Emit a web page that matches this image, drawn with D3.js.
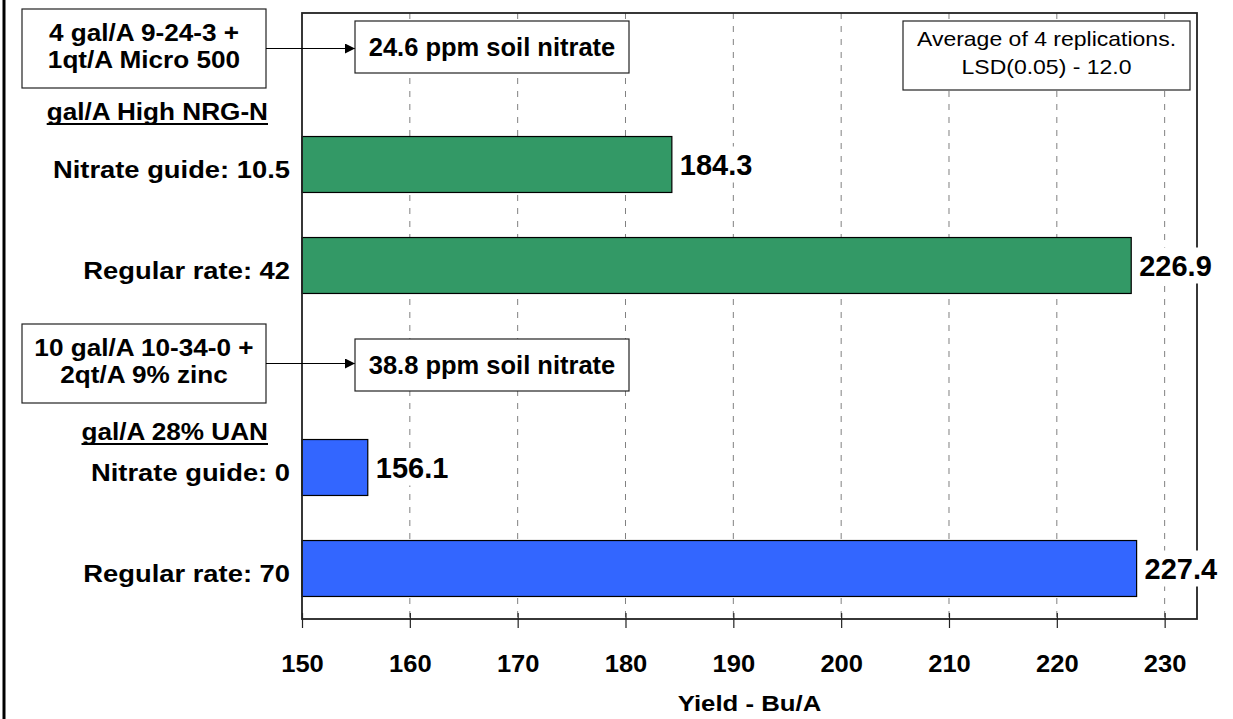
<!DOCTYPE html>
<html>
<head>
<meta charset="utf-8">
<script src="https://cdn.jsdelivr.net/npm/d3@7"></script>
<style>
  html, body { margin: 0; padding: 0; background: #fff; }
  svg { display: block; font-family: "Liberation Sans", Arial, sans-serif; }
</style>
</head>
<body>
<svg id="chart" width="1233" height="719"></svg>
<script>
// ---------------- data ----------------
const rows = ["hdrHigh", "Nitrate guide: 10.5", "Regular rate: 42", "hdrUAN", "Nitrate guide: 0", "Regular rate: 70"];
const categories = ["Nitrate guide: 10.5", "Regular rate: 42", "Nitrate guide: 0", "Regular rate: 70"];
const yields = [184.3, 226.9, 156.1, 227.4];
const groups = ["High NRG-N", "High NRG-N", "28% UAN", "28% UAN"];
const xTicks = [150, 160, 170, 180, 190, 200, 210, 220, 230];
const xDomain = [150, 233];
const groupColors = { "High NRG-N": "#339966", "28% UAN": "#3366FF" };
const axisTitle = "Yield - Bu/A";
const starterBoxes = [
  ["4 gal/A 9-24-3 +", "1qt/A Micro 500"],
  ["10 gal/A 10-34-0 +", "2qt/A 9% zinc"]
];
const nitrateNotes = ["24.6 ppm soil nitrate", "38.8 ppm soil nitrate"];
const headers = ["gal/A High NRG-N", "gal/A 28% UAN"];
const noteLines = ["Average of 4 replications.", "LSD(0.05) - 12.0"];

// ---------------- layout ----------------
const W = 1233, H = 719;
const P = { left: 302, right: 1197, top: 13, bottom: 619 };
const svg = d3.select("#chart");

const x = d3.scaleLinear().domain(xDomain).range([P.left, P.right]);
const y = d3.scaleBand().domain(rows).range([P.top, P.bottom])
  .paddingInner(0.446).paddingOuter(0.223).align(0.5);

function stext(g, px, py, str, o) {
  return g.append("text")
    .attr("transform", `translate(${px},${py}) scale(${o.sx || 1},1)`)
    .attr("text-anchor", o.anchor || "start")
    .style("font-size", o.size + "px")
    .style("font-weight", o.weight || "bold")
    .attr("fill", "#000")
    .text(str);
}

// left thick line
svg.append("rect").attr("x", 2.5).attr("y", 0).attr("width", 3).attr("height", H).attr("fill", "#000");

// gridlines
svg.append("g").selectAll("line").data(xTicks.slice(1)).join("line")
  .attr("x1", d => x(d)).attr("x2", d => x(d))
  .attr("y1", P.top).attr("y2", P.bottom)
  .attr("stroke", "#808080").attr("stroke-width", 1)
  .attr("stroke-dasharray", "6,7");

// bars
svg.append("g").selectAll("rect").data(categories).join("rect")
  .attr("x", x(xDomain[0]))
  .attr("y", d => y(d))
  .attr("width", (d, i) => x(yields[i]) - x(xDomain[0]))
  .attr("height", y.bandwidth())
  .attr("fill", (d, i) => groupColors[groups[i]])
  .attr("stroke", "#000").attr("stroke-width", 1.2);

// plot border
svg.append("rect").attr("x", P.left).attr("y", P.top)
  .attr("width", P.right - P.left).attr("height", P.bottom - P.top)
  .attr("fill", "none").attr("stroke", "#222").attr("stroke-width", 1.8);

// bottom axis
const xAxis = svg.append("g").attr("transform", `translate(0,${P.bottom})`)
  .call(d3.axisBottom(x).tickValues(xTicks).tickSize(9).tickPadding(0).tickFormat(d3.format("d")));
xAxis.select(".domain").remove();
xAxis.selectAll(".tick line").attr("y1", -6).attr("y2", 9).attr("stroke", "#222").attr("stroke-width", 1.2);
xAxis.selectAll(".tick text")
  .attr("y", 0).attr("dy", null)
  .attr("transform", "translate(0,53) scale(1.11,1)")
  .style("font-size", "23px").style("font-weight", "bold").attr("fill", "#000")
  .attr("font-family", null);

// axis title
stext(svg, (P.left + P.right) / 2, 711, axisTitle, { size: 23, sx: 1.12, anchor: "middle" });

// category labels
const yAxis = svg.append("g").attr("transform", `translate(${P.left},0)`)
  .call(d3.axisLeft(y).tickValues(categories).tickSize(0).tickPadding(0));
yAxis.select(".domain").remove();
yAxis.selectAll(".tick text")
  .attr("x", 0).attr("dy", null).attr("y", 0)
  .attr("transform", "translate(-12,13) scale(1.14,1)")
  .style("font-size", "24px").style("font-weight", "bold").attr("fill", "#000")
  .attr("font-family", null);

// value labels with white background
const vl = svg.append("g");
categories.forEach((c, i) => {
  const cy = y(c) + y.bandwidth() / 2;
  const t = stext(vl, x(yields[i]) + 8, cy + 10, yields[i].toFixed(1), { size: 29 });
  const bb = t.node().getBBox();
  vl.insert("rect", "text")
    .attr("x", x(yields[i]) + 5).attr("y", cy - 18)
    .attr("width", bb.width + 8).attr("height", 36)
    .attr("fill", "#fff");
});
vl.selectAll("text").raise();

// arrow marker
svg.append("defs").append("marker")
  .attr("id", "arr").attr("viewBox", "0 0 10 10").attr("refX", 10).attr("refY", 5)
  .attr("markerWidth", 10).attr("markerHeight", 10).attr("markerUnits", "userSpaceOnUse")
  .attr("orient", "auto")
  .append("path").attr("d", "M0,0 L10,5 L0,10 Z").attr("fill", "#000");

// starter boxes, arrows, nitrate notes, headers
const boxTops = [9, 324];
const noteTops = [21, 339];
const headerBase = [120, 440];
starterBoxes.forEach((lines, i) => {
  const g = svg.append("g");
  const bx = 22, bw = 244, bh = 79, by = boxTops[i];
  g.append("rect").attr("x", bx).attr("y", by).attr("width", bw).attr("height", bh)
    .attr("fill", "#fff").attr("stroke", "#222").attr("stroke-width", 1.2);
  lines.forEach((ln, j) => {
    stext(g, bx + bw / 2, by + 32 + j * 27, ln, { size: 24, sx: 1.09, anchor: "middle" });
  });
  const ay = by + bh / 2;
  const nx = 355, nw = 274, nh = 52, ny = noteTops[i];
  g.append("line").attr("x1", bx + bw).attr("x2", nx).attr("y1", ay).attr("y2", ay)
    .attr("stroke", "#000").attr("stroke-width", 1.2).attr("marker-end", "url(#arr)");
  g.append("rect").attr("x", nx).attr("y", ny).attr("width", nw).attr("height", nh)
    .attr("fill", "#fff").attr("stroke", "#222").attr("stroke-width", 1.2);
  stext(g, nx + nw / 2, ny + 35, nitrateNotes[i], { size: 25.5, anchor: "middle" });
  const ht = stext(g, 268, headerBase[i], headers[i], { size: 24, sx: 1.09, anchor: "end" });
  const hw = ht.node().getComputedTextLength() * 1.09;
  g.append("rect").attr("x", 268 - hw).attr("y", headerBase[i] + 3).attr("width", hw).attr("height", 2).attr("fill", "#000");
});

// note box
const ng = svg.append("g");
ng.append("rect").attr("x", 903).attr("y", 21).attr("width", 287).attr("height", 69)
  .attr("fill", "#fff").attr("stroke", "#222").attr("stroke-width", 1.2);
noteLines.forEach((ln, j) => {
  stext(ng, 1046.5, 46 + j * 27.5, ln, { size: 20, sx: 1.15, anchor: "middle", weight: "normal" });
});
</script>
</body>
</html>
